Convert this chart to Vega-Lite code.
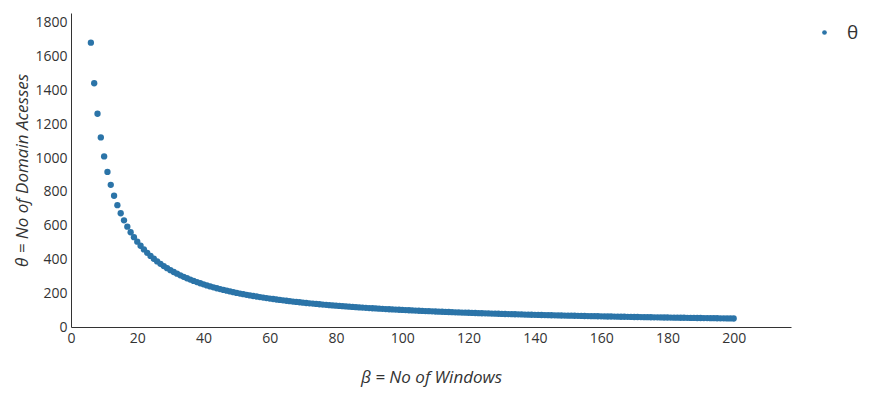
{
  "$schema": "https://vega.github.io/schema/vega-lite/v6.json",
  "autosize": {"type": "none"},
  "width": 720,
  "height": 314,
  "padding": {"left": 71, "top": 13, "right": 82, "bottom": 76},
  "background": "white",
  "config": {
    "view": {"stroke": null},
    "font": "Open Sans"
  },
  "data": {
    "values": [
      {"b":6,"t":1683.3,"s":"θ"},{"b":7,"t":1442.9,"s":"θ"},{"b":8,"t":1262.5,"s":"θ"},{"b":9,"t":1122.2,"s":"θ"},{"b":10,"t":1010,"s":"θ"},
      {"b":11,"t":918.2,"s":"θ"},{"b":12,"t":841.7,"s":"θ"},{"b":13,"t":776.9,"s":"θ"},{"b":14,"t":721.4,"s":"θ"},{"b":15,"t":673.3,"s":"θ"},
      {"b":16,"t":631.3,"s":"θ"},{"b":17,"t":594.1,"s":"θ"},{"b":18,"t":561.1,"s":"θ"},{"b":19,"t":531.6,"s":"θ"},{"b":20,"t":505,"s":"θ"},
      {"b":21,"t":481,"s":"θ"},{"b":22,"t":459.1,"s":"θ"},{"b":23,"t":439.1,"s":"θ"},{"b":24,"t":420.8,"s":"θ"},{"b":25,"t":404,"s":"θ"},
      {"b":26,"t":388.5,"s":"θ"},{"b":27,"t":374.1,"s":"θ"},{"b":28,"t":360.7,"s":"θ"},{"b":29,"t":348.3,"s":"θ"},{"b":30,"t":336.7,"s":"θ"},
      {"b":31,"t":325.8,"s":"θ"},{"b":32,"t":315.6,"s":"θ"},{"b":33,"t":306.1,"s":"θ"},{"b":34,"t":297.1,"s":"θ"},{"b":35,"t":288.6,"s":"θ"},
      {"b":36,"t":280.6,"s":"θ"},{"b":37,"t":273,"s":"θ"},{"b":38,"t":265.8,"s":"θ"},{"b":39,"t":259,"s":"θ"},{"b":40,"t":252.5,"s":"θ"},
      {"b":41,"t":246.3,"s":"θ"},{"b":42,"t":240.5,"s":"θ"},{"b":43,"t":234.9,"s":"θ"},{"b":44,"t":229.5,"s":"θ"},{"b":45,"t":224.4,"s":"θ"},
      {"b":46,"t":219.6,"s":"θ"},{"b":47,"t":214.9,"s":"θ"},{"b":48,"t":210.4,"s":"θ"},{"b":49,"t":206.1,"s":"θ"},{"b":50,"t":202,"s":"θ"},
      {"b":51,"t":198,"s":"θ"},{"b":52,"t":194.2,"s":"θ"},{"b":53,"t":190.6,"s":"θ"},{"b":54,"t":187,"s":"θ"},{"b":55,"t":183.6,"s":"θ"},
      {"b":56,"t":180.4,"s":"θ"},{"b":57,"t":177.2,"s":"θ"},{"b":58,"t":174.1,"s":"θ"},{"b":59,"t":171.2,"s":"θ"},{"b":60,"t":168.3,"s":"θ"},
      {"b":61,"t":165.6,"s":"θ"},{"b":62,"t":162.9,"s":"θ"},{"b":63,"t":160.3,"s":"θ"},{"b":64,"t":157.8,"s":"θ"},{"b":65,"t":155.4,"s":"θ"},
      {"b":66,"t":153,"s":"θ"},{"b":67,"t":150.7,"s":"θ"},{"b":68,"t":148.5,"s":"θ"},{"b":69,"t":146.4,"s":"θ"},{"b":70,"t":144.3,"s":"θ"},
      {"b":71,"t":142.3,"s":"θ"},{"b":72,"t":140.3,"s":"θ"},{"b":73,"t":138.4,"s":"θ"},{"b":74,"t":136.5,"s":"θ"},{"b":75,"t":134.7,"s":"θ"},
      {"b":76,"t":132.9,"s":"θ"},{"b":77,"t":131.2,"s":"θ"},{"b":78,"t":129.5,"s":"θ"},{"b":79,"t":127.8,"s":"θ"},{"b":80,"t":126.3,"s":"θ"},
      {"b":81,"t":124.7,"s":"θ"},{"b":82,"t":123.2,"s":"θ"},{"b":83,"t":121.7,"s":"θ"},{"b":84,"t":120.2,"s":"θ"},{"b":85,"t":118.8,"s":"θ"},
      {"b":86,"t":117.4,"s":"θ"},{"b":87,"t":116.1,"s":"θ"},{"b":88,"t":114.8,"s":"θ"},{"b":89,"t":113.5,"s":"θ"},{"b":90,"t":112.2,"s":"θ"},
      {"b":91,"t":111,"s":"θ"},{"b":92,"t":109.8,"s":"θ"},{"b":93,"t":108.6,"s":"θ"},{"b":94,"t":107.4,"s":"θ"},{"b":95,"t":106.3,"s":"θ"},
      {"b":96,"t":105.2,"s":"θ"},{"b":97,"t":104.1,"s":"θ"},{"b":98,"t":103.1,"s":"θ"},{"b":99,"t":102,"s":"θ"},{"b":100,"t":101,"s":"θ"},
      {"b":101,"t":100,"s":"θ"},{"b":102,"t":99,"s":"θ"},{"b":103,"t":98.1,"s":"θ"},{"b":104,"t":97.1,"s":"θ"},{"b":105,"t":96.2,"s":"θ"},
      {"b":106,"t":95.3,"s":"θ"},{"b":107,"t":94.4,"s":"θ"},{"b":108,"t":93.5,"s":"θ"},{"b":109,"t":92.7,"s":"θ"},{"b":110,"t":91.8,"s":"θ"},
      {"b":111,"t":91,"s":"θ"},{"b":112,"t":90.2,"s":"θ"},{"b":113,"t":89.4,"s":"θ"},{"b":114,"t":88.6,"s":"θ"},{"b":115,"t":87.8,"s":"θ"},
      {"b":116,"t":87.1,"s":"θ"},{"b":117,"t":86.3,"s":"θ"},{"b":118,"t":85.6,"s":"θ"},{"b":119,"t":84.9,"s":"θ"},{"b":120,"t":84.2,"s":"θ"},
      {"b":121,"t":83.5,"s":"θ"},{"b":122,"t":82.8,"s":"θ"},{"b":123,"t":82.1,"s":"θ"},{"b":124,"t":81.5,"s":"θ"},{"b":125,"t":80.8,"s":"θ"},
      {"b":126,"t":80.2,"s":"θ"},{"b":127,"t":79.5,"s":"θ"},{"b":128,"t":78.9,"s":"θ"},{"b":129,"t":78.3,"s":"θ"},{"b":130,"t":77.7,"s":"θ"},
      {"b":131,"t":77.1,"s":"θ"},{"b":132,"t":76.5,"s":"θ"},{"b":133,"t":75.9,"s":"θ"},{"b":134,"t":75.4,"s":"θ"},{"b":135,"t":74.8,"s":"θ"},
      {"b":136,"t":74.3,"s":"θ"},{"b":137,"t":73.7,"s":"θ"},{"b":138,"t":73.2,"s":"θ"},{"b":139,"t":72.7,"s":"θ"},{"b":140,"t":72.1,"s":"θ"},
      {"b":141,"t":71.6,"s":"θ"},{"b":142,"t":71.1,"s":"θ"},{"b":143,"t":70.6,"s":"θ"},{"b":144,"t":70.1,"s":"θ"},{"b":145,"t":69.7,"s":"θ"},
      {"b":146,"t":69.2,"s":"θ"},{"b":147,"t":68.7,"s":"θ"},{"b":148,"t":68.2,"s":"θ"},{"b":149,"t":67.8,"s":"θ"},{"b":150,"t":67.3,"s":"θ"},
      {"b":151,"t":66.9,"s":"θ"},{"b":152,"t":66.4,"s":"θ"},{"b":153,"t":66,"s":"θ"},{"b":154,"t":65.6,"s":"θ"},{"b":155,"t":65.2,"s":"θ"},
      {"b":156,"t":64.7,"s":"θ"},{"b":157,"t":64.3,"s":"θ"},{"b":158,"t":63.9,"s":"θ"},{"b":159,"t":63.5,"s":"θ"},{"b":160,"t":63.1,"s":"θ"},
      {"b":161,"t":62.7,"s":"θ"},{"b":162,"t":62.3,"s":"θ"},{"b":163,"t":62,"s":"θ"},{"b":164,"t":61.6,"s":"θ"},{"b":165,"t":61.2,"s":"θ"},
      {"b":166,"t":60.8,"s":"θ"},{"b":167,"t":60.5,"s":"θ"},{"b":168,"t":60.1,"s":"θ"},{"b":169,"t":59.8,"s":"θ"},{"b":170,"t":59.4,"s":"θ"},
      {"b":171,"t":59.1,"s":"θ"},{"b":172,"t":58.7,"s":"θ"},{"b":173,"t":58.4,"s":"θ"},{"b":174,"t":58,"s":"θ"},{"b":175,"t":57.7,"s":"θ"},
      {"b":176,"t":57.4,"s":"θ"},{"b":177,"t":57.1,"s":"θ"},{"b":178,"t":56.7,"s":"θ"},{"b":179,"t":56.4,"s":"θ"},{"b":180,"t":56.1,"s":"θ"},
      {"b":181,"t":55.8,"s":"θ"},{"b":182,"t":55.5,"s":"θ"},{"b":183,"t":55.2,"s":"θ"},{"b":184,"t":54.9,"s":"θ"},{"b":185,"t":54.6,"s":"θ"},
      {"b":186,"t":54.3,"s":"θ"},{"b":187,"t":54,"s":"θ"},{"b":188,"t":53.7,"s":"θ"},{"b":189,"t":53.4,"s":"θ"},{"b":190,"t":53.2,"s":"θ"},
      {"b":191,"t":52.9,"s":"θ"},{"b":192,"t":52.6,"s":"θ"},{"b":193,"t":52.3,"s":"θ"},{"b":194,"t":52.1,"s":"θ"},{"b":195,"t":51.8,"s":"θ"},
      {"b":196,"t":51.5,"s":"θ"},{"b":197,"t":51.3,"s":"θ"},{"b":198,"t":51,"s":"θ"},{"b":199,"t":50.8,"s":"θ"},{"b":200,"t":50.5,"s":"θ"}
    ]
  },
  "mark": {"type": "circle", "size": 40, "opacity": 1},
  "encoding": {
    "x": {
      "field": "b",
      "type": "quantitative",
      "scale": {"domain": [0, 217.3], "nice": false, "zero": false},
      "axis": {
        "title": "β = No of Windows",
        "titleFont": "Open Sans",
        "titleFontStyle": "italic",
        "titleFontWeight": "normal",
        "titleFontSize": 17,
        "titleColor": "#333",
        "titlePadding": 24,
        "values": [0, 20, 40, 60, 80, 100, 120, 140, 160, 180, 200],
        "format": "d",
        "labelFont": "Open Sans",
        "labelFontSize": 14,
        "labelColor": "#333",
        "labelPadding": 4,
        "labelFlush": false,
        "labelBound": false,
        "labelOverlap": false,
        "ticks": false,
        "grid": false,
        "domainColor": "#333",
        "domainWidth": 1
      }
    },
    "y": {
      "field": "t",
      "type": "quantitative",
      "scale": {"domain": [0, 1859], "nice": false, "zero": false},
      "axis": {
        "title": "θ = No of Domain Acesses",
        "titleFont": "Open Sans",
        "titleFontStyle": "italic",
        "titleFontWeight": "normal",
        "titleFontSize": 17,
        "titleColor": "#333",
        "titlePadding": 3,
        "values": [0, 200, 400, 600, 800, 1000, 1200, 1400, 1600, 1800],
        "format": "d",
        "labelFont": "Open Sans",
        "labelFontSize": 14,
        "labelColor": "#333",
        "labelPadding": 4,
        "labelFlush": false,
        "labelBound": false,
        "labelOverlap": false,
        "ticks": false,
        "grid": false,
        "domainColor": "#333",
        "domainWidth": 1
      }
    },
    "color": {
      "field": "s",
      "type": "nominal",
      "scale": {"range": ["#2b74a8"]},
      "legend": {
        "title": null,
        "orient": "none",
        "legendX": 744,
        "legendY": 10,
        "labelFont": "Open Sans",
        "labelFontSize": 19,
        "labelColor": "#333",
        "symbolType": "circle",
        "symbolSize": 22,
        "labelOffset": 13
      }
    }
  }
}
